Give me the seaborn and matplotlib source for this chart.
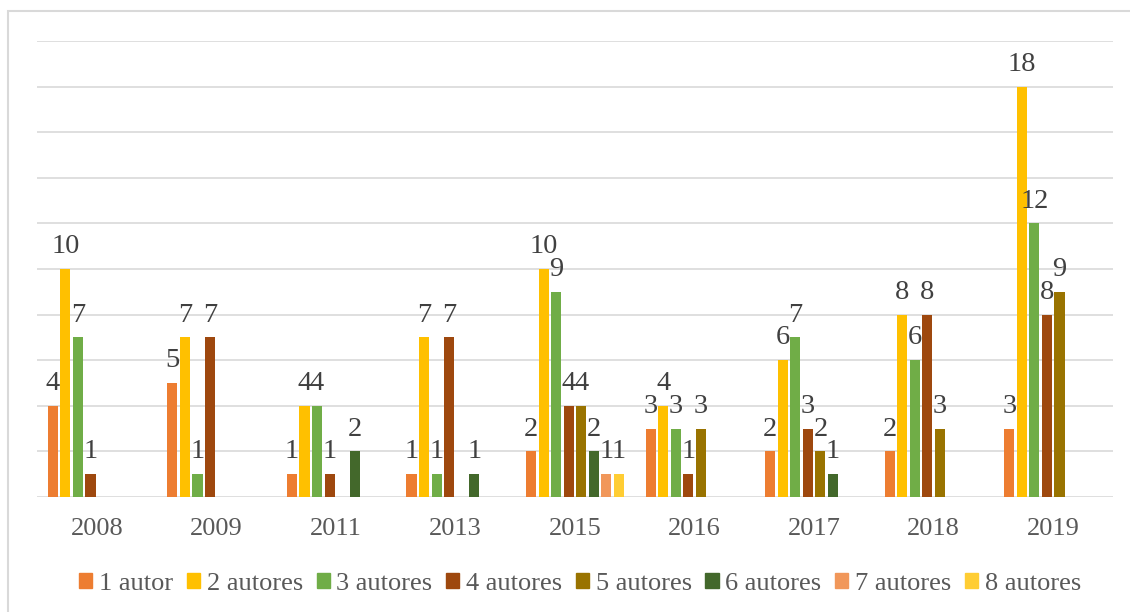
import pandas as pd
import numpy as np
import matplotlib
matplotlib.use("Agg")
import matplotlib.pyplot as plt
from matplotlib.patches import Rectangle
import seaborn as sns

years = ['2008', '2009', '2011', '2013', '2015', '2016', '2017', '2018', '2019']
series = ['1 autor', '2 autores', '3 autores', '4 autores',
          '5 autores', '6 autores', '7 autores', '8 autores']

# 0 = no bar in that slot
autor_1 = [4, 5, 1, 1, 2, 3, 2, 2, 3]
autores_2 = [10, 7, 4, 7, 10, 4, 6, 8, 18]
autores_3 = [7, 1, 4, 1, 9, 3, 7, 6, 12]
autores_4 = [1, 7, 1, 7, 4, 1, 3, 8, 8]
autores_5 = [0, 0, 0, 0, 4, 3, 2, 3, 9]
autores_6 = [0, 0, 2, 1, 2, 0, 1, 0, 0]
autores_7 = [0, 0, 0, 0, 1, 0, 0, 0, 0]
autores_8 = [0, 0, 0, 0, 1, 0, 0, 0, 0]

colors = ['#ED7D31', '#FFC000', '#70AD47', '#9E480E',
          '#997300', '#43682B', '#F1975A', '#FFCD33']

values = [autor_1, autores_2, autores_3, autores_4,
          autores_5, autores_6, autores_7, autores_8]
rows = []
for s, vals in zip(series, values):
    for y, v in zip(years, vals):
        rows.append({'ano': y, 'serie': s, 'n': v})
df = pd.DataFrame(rows)

plt.rcParams['font.family'] = ['Liberation Serif', 'DejaVu Serif']

fig = plt.figure(figsize=(11.3, 6.12), dpi=100)
ax = fig.add_axes([37 / 1130, 1 - 497 / 612, (1113 - 37) / 1130, (497 - 41) / 612])

sns.barplot(data=df, x='ano', y='n', hue='serie', order=years, hue_order=series,
            palette=colors, width=0.84, gap=0.2, dodge=True, saturation=1,
            errorbar=None, legend=False, ax=ax, zorder=3)

for cont in ax.containers:
    labels = [str(int(v)) if v > 0 else '' for v in cont.datavalues]
    ax.bar_label(cont, labels=labels, padding=7, fontsize=20.5, color='#404040')

ax.set_ylim(0, 20)
ax.set_xlim(-0.5, len(years) - 0.5)
ax.set_yticks(np.arange(0, 21, 2))
ax.set_yticklabels([])
ax.tick_params(axis='y', length=0)
ax.tick_params(axis='x', length=0, pad=15, labelsize=19, labelcolor='#595959')
ax.grid(axis='y', color='#D9D9D9', linewidth=1.2, zorder=0)
ax.set_axisbelow(True)
for sp in ax.spines.values():
    sp.set_visible(False)
ax.set_xlabel('')
ax.set_ylabel('')

handles = [Rectangle((0, 0), 1, 1, color=c) for c in colors]
fig.legend(handles, series, loc='center', bbox_to_anchor=(580 / 1130, 1 - 584 / 612),
           ncol=8, frameon=False, fontsize=19, labelcolor='#595959',
           handlelength=0.5, handleheight=0.5, handletextpad=0.25, columnspacing=0.52,
           borderpad=0, borderaxespad=0)

# chart frame (right and bottom edges fall outside the image)
fig.patches.append(Rectangle((8 / 1130, -0.05), 1.2, 1 - 11 / 612 + 0.05,
                             transform=fig.transFigure, fill=False,
                             edgecolor='#D9D9D9', linewidth=1.5))

fig.savefig('out.png', dpi=100)
